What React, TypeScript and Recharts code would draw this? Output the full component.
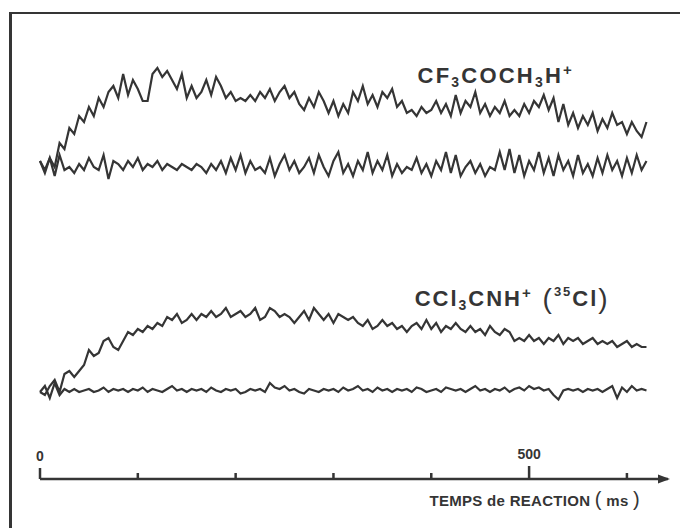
import React from 'react';
import { LineChart, Line, XAxis, YAxis, ReferenceDot } from 'recharts';

// sampled every 5 ms, 0..620 ms (arbitrary intensity units)
const CF3_SIGNAL = [
  106, 103, 107, 104, 112, 110, 117, 115, 121, 119, 124, 121, 127, 124, 129, 131, 127, 135, 128, 133,
  130, 126, 126, 135, 137, 134, 136, 133, 130, 135, 127, 131, 127, 129, 133, 128, 134, 131, 127, 129,
  126, 127, 126, 128, 126, 129, 127, 130, 126, 129, 131, 127, 129, 125, 123, 127, 124, 129, 126, 122,
  126, 121, 125, 122, 129, 126, 131, 125, 128, 124, 129, 127, 130, 124, 126, 122, 123, 121, 124, 122,
  123, 126, 122, 125, 121, 128, 122, 126, 124, 129, 122, 125, 121, 124, 122, 126, 121, 123, 121, 125,
  122, 126, 124, 128, 123, 127, 119, 125, 118, 122, 117, 121, 118, 122, 116, 120, 117, 122, 118, 119,
  115, 119, 116, 114, 119,
];

const CF3_BASELINE = [
  106, 102, 107, 101, 108, 103, 104, 102, 105, 103, 107, 104, 103, 108, 100, 106, 105, 103, 106, 104,
  107, 103, 105, 104, 106, 103, 105, 104, 103, 105, 104, 103, 105, 104, 102, 105, 103, 106, 102, 107,
  103, 108, 102, 106, 103, 104, 102, 107, 101, 105, 108, 103, 106, 102, 104, 107, 102, 108, 104, 101,
  106, 109, 102, 105, 101, 106, 103, 109, 102, 106, 103, 108, 101, 105, 102, 104, 103, 107, 102, 105,
  101, 106, 103, 109, 102, 108, 101, 104, 106, 102, 105, 101, 104, 103, 109, 103, 110, 102, 108, 101,
  106, 103, 109, 102, 107, 101, 108, 103, 106, 101, 108, 102, 105, 101, 107, 102, 108, 103, 106, 101,
  107, 102, 108, 103, 106,
];

const CCL3_SIGNAL = [
  29, 28, 31, 33, 29, 35, 36, 34, 36, 38, 43, 41, 42, 46, 47, 44, 43, 46, 49, 48,
  50, 49, 51, 50, 52, 51, 54, 53, 55, 52, 53, 55, 53, 55, 54, 56, 54, 55, 57, 54,
  55, 56, 54, 55, 57, 53, 54, 57, 56, 54, 55, 54, 52, 54, 56, 53, 57, 55, 53, 55,
  52, 55, 54, 53, 54, 52, 51, 53, 50, 51, 53, 51, 52, 50, 51, 49, 51, 52, 50, 53,
  50, 52, 49, 51, 50, 52, 50, 49, 51, 49, 50, 48, 51, 49, 48, 50, 49, 46, 47, 46,
  48, 46, 47, 45, 47, 46, 48, 45, 47, 46, 47, 45, 46, 47, 45, 46, 45, 46, 44, 45,
  46, 44, 45, 44, 44,
];

const CCL3_BASELINE = [
  29, 31, 27, 32, 28, 30, 29, 30, 29, 29.5, 30, 29, 29.5, 30.5, 29, 30, 29.5, 30, 29, 30,
  29.5, 30.5, 29, 30, 29.5, 29, 30, 31, 29.5, 30, 29, 30, 29.5, 30, 29, 30.5, 29.5, 29, 30, 29.5,
  30, 28.5, 29, 30, 29.5, 30, 29, 32, 30.5, 30, 31, 29.5, 30, 29, 28.5, 30, 29.5, 29, 30, 29.5,
  30, 29, 30.5, 29.5, 30, 31, 29.5, 30, 29, 30.5, 29.5, 30, 29, 30, 29.5, 30, 29, 30.5, 30, 29,
  29.5, 30, 29, 30.5, 30, 29.5, 30, 29, 30, 31, 29.5, 30, 29, 30, 29.5, 30.5, 29, 30, 30.5, 29.5,
  31, 30, 30.5, 29.5, 30, 28, 26.5, 29.5, 30, 29.5, 30, 29, 30, 29.5, 30, 29, 30, 31, 27, 30.5,
  29, 31, 29.5, 30, 29.5,
];

const STEP_MS = 5;
const X_TICKS = [0, 100, 200, 300, 400, 500, 600];
const TICK_LABELS: Record<number, string> = { 0: '0', 500: '500' };

const data = CF3_SIGNAL.map((v, i) => ({
  t: i * STEP_MS,
  cf3: v,
  cf3Ref: CF3_BASELINE[i],
  ccl3: CCL3_SIGNAL[i],
  ccl3Ref: CCL3_BASELINE[i],
}));

const INK = '#353535';
const FONT = '"Liberation Sans", Arial, Helvetica, sans-serif';

const AxisTick = (props: any) => {
  const { x, y, payload } = props;
  const v = payload.value;
  const len = v === 500 ? 13 : v === 0 ? 11 : 6;
  const label = TICK_LABELS[v];
  return (
    <g>
      <line x1={x} x2={x} y1={y} y2={y - len} stroke={INK} strokeWidth={2.5} />
      {label && (
        <text x={x} y={y - len - 7} textAnchor="middle" fontFamily={FONT} fontWeight="bold" fontSize={14} fill={INK}>
          {label}
        </text>
      )}
    </g>
  );
};

const AxisTitle = (props: any) => {
  const { viewBox } = props;
  const x = viewBox.x + viewBox.width - 28;
  const y = viewBox.y + 27;
  return (
    <text x={x} y={y} textAnchor="end" fontFamily={FONT} fontWeight="bold" fontSize={15} fill={INK} letterSpacing={0.3}>
      TEMPS de REACTION <tspan fontWeight="normal" fontSize={20}>(</tspan> ms <tspan fontWeight="normal" fontSize={20}>)</tspan>
    </text>
  );
};

const ArrowHead = (props: any) => {
  const { cx, cy } = props;
  return <polygon points={`${cx + 2},${cy} ${cx - 10},${cy - 4.5} ${cx - 10},${cy + 4.5}`} fill={INK} />;
};

const Cf3Label = (props: any) => {
  const { cx, cy } = props;
  return (
    <text x={cx} y={cy + 8} fontFamily={FONT} fontWeight="bold" fontSize={22} fill={INK} letterSpacing={2.2}>
      CF<tspan fontSize={14} dy={4}>3</tspan>
      <tspan dy={-4}>COCH</tspan>
      <tspan fontSize={14} dy={4}>3</tspan>
      <tspan dy={-4}>H</tspan>
      <tspan fontSize={15} dy={-8}>+</tspan>
    </text>
  );
};

const Ccl3Label = (props: any) => {
  const { cx, cy } = props;
  return (
    <text x={cx} y={cy + 8} fontFamily={FONT} fontWeight="bold" fontSize={22} fill={INK} letterSpacing={2}>
      CCl<tspan fontSize={14} dy={4}>3</tspan>
      <tspan dy={-4}>CNH</tspan>
      <tspan fontSize={15} dy={-8}>+</tspan>
      <tspan dy={10} fontWeight="normal" fontSize={28}>  (</tspan>
      <tspan fontSize={13} dy={-12}>35</tspan>
      <tspan dy={10}>Cl</tspan>
      <tspan fontWeight="normal" fontSize={28} dy={2}>)</tspan>
    </text>
  );
};

export default function App() {
  return (
    <div style={{ position: 'absolute', left: 0, top: 0, width: 680, height: 528, background: '#fff' }}>
      <div
        style={{
          position: 'absolute',
          left: 9,
          top: 12,
          width: 671,
          height: 516,
          borderTop: `2px solid ${INK}`,
          borderLeft: `3px solid ${INK}`,
          boxSizing: 'border-box',
        }}
      />
      <div style={{ position: 'absolute', left: 0, top: 0 }}>
        <LineChart width={680} height={528} data={data} margin={{ top: 29, right: 12, left: 40, bottom: 19 }}>
          <XAxis
            dataKey="t"
            type="number"
            domain={[0, 642]}
            ticks={X_TICKS}
            height={30}
            tickSize={0}
            tickMargin={0}
            tickLine={false}
            tick={<AxisTick />}
            axisLine={{ stroke: INK, strokeWidth: 2.5 }}
            label={<AxisTitle />}
            interval={0}
          />
          <YAxis hide domain={[0, 150]} />
          <Line type="linear" dataKey="cf3" stroke={INK} strokeWidth={2.2} dot={false} isAnimationActive={false} />
          <Line type="linear" dataKey="cf3Ref" stroke={INK} strokeWidth={2.2} dot={false} isAnimationActive={false} />
          <Line type="linear" dataKey="ccl3" stroke={INK} strokeWidth={2.2} dot={false} isAnimationActive={false} />
          <Line type="linear" dataKey="ccl3Ref" stroke={INK} strokeWidth={2.2} dot={false} isAnimationActive={false} />
          <ReferenceDot x={642} y={0} r={0} shape={<ArrowHead />} ifOverflow="visible" />
          <ReferenceDot x={386} y={134.7} r={0} shape={<Cf3Label />} ifOverflow="visible" />
          <ReferenceDot x={383} y={60.3} r={0} shape={<Ccl3Label />} ifOverflow="visible" />
        </LineChart>
      </div>
    </div>
  );
}
